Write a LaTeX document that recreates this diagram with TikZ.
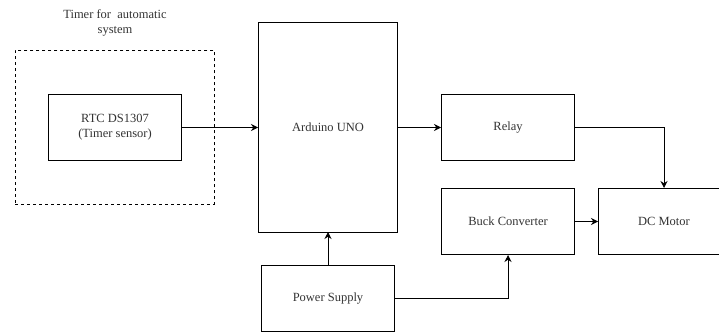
\documentclass[tikz,border=0pt]{standalone}
\usepackage{fontspec}
\setmainfont{Liberation Serif}
\usetikzlibrary{arrows.meta}
\begin{document}
\begin{tikzpicture}[x=1pt,y=-1pt,
  blk/.style={draw, line width=1pt, fill=white},
  conn/.style={draw, line width=1pt, -{Stealth[length=7pt,width=7pt]}},
  txt/.style={font=\fontsize{12.5}{15}\selectfont, align=center, text=black!80}]
\useasboundingbox (0,0) rectangle (719,334);
\path[clip] (0,0) rectangle (719,334);
% group
\node[draw, dashed, line width=0.9pt, minimum width=199pt, minimum height=154pt, anchor=north west] (grp) at (15,50) {};
\node[txt] (grplbl) at (115,23) {Timer for\ \ automatic\\system};
% blocks
\node[blk, minimum width=133pt, minimum height=66pt, anchor=north west] (rtc) at (48,94) {};
\node[txt] at (rtc.center) {RTC DS1307\\(Timer sensor)};
\node[blk, minimum width=139pt, minimum height=210pt, anchor=north west] (ard) at (258,22) {};
\node[txt] at (ard.center) {Arduino UNO};
\node[blk, minimum width=133pt, minimum height=66pt, anchor=north west] (ps) at (261,265) {};
\node[txt] at (ps.center) {Power Supply};
\node[blk, minimum width=133pt, minimum height=66pt, anchor=north west] (relay) at (441,94) {};
\node[txt] at (relay.center) {Relay};
\node[blk, minimum width=133pt, minimum height=66pt, anchor=north west] (buck) at (441,188) {};
\node[txt] at (buck.center) {Buck Converter};
\node[blk, minimum width=133pt, minimum height=66pt, anchor=north west] (dc) at (598,188) {};
\node[txt] at (664,221) {DC Motor};
% connectors
\draw[conn] (rtc.east) -- (ard.west |- rtc.east);
\draw[conn] (ard.east |- relay.west) -- (relay.west);
\draw[conn] (relay.east) -| (664,188);
\draw[conn] (buck.east) -- (dc.west);
\draw[conn] (ps.north -| 328,0) -- (328,232);
\draw[conn] (ps.east) -| (buck.south);
\end{tikzpicture}
\end{document}
